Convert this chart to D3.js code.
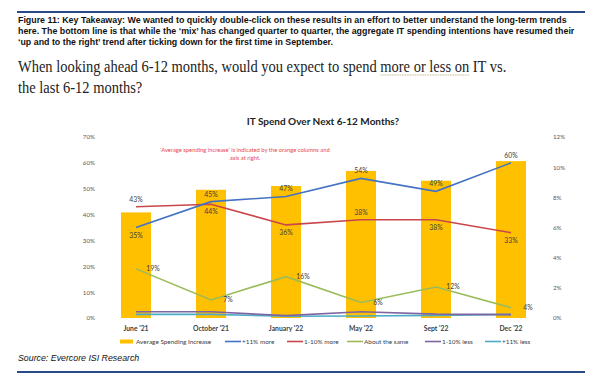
<!DOCTYPE html>
<html>
<head>
<meta charset="utf-8">
<script src="https://cdn.jsdelivr.net/npm/d3@7"></script>
<style>
  body { margin: 0; background: #fff; }
  svg { display: block; }
</style>
</head>
<body>
<svg width="600" height="385"></svg>
<script>
// chart data
const categories = ["June '21", "October '21", "January '22", "May '22", "Sept '22", "Dec '22"];
const avgIncrease = [7.0, 8.5, 8.75, 9.75, 9.1, 10.4];   // right axis, %
const more11 = [35, 45, 47, 54, 49, 60];
const more1to10 = [43, 44, 36, 38, 38, 33];
const aboutSame = [19, 7, 16, 6, 12, 4];
const less1to10 = [2.4, 2.4, 0.9, 2.4, 1.5, 1.3];
const less11 = [1.4, 1.4, 0.7, 0.8, 1.0, 1.4];
const leftTicks = [0, 10, 20, 30, 40, 50, 60, 70];
const rightTicks = [0, 2, 4, 6, 8, 10, 12];

const headerLines = [
    "Figure 11: Key Takeaway: We wanted to quickly double-click on these results in an effort to better understand the long-term trends",
    "here. The bottom line is that while the \u2018mix\u2019 has changed quarter to quarter, the aggregate IT spending intentions have resumed their",
    "\u2018up and to the right\u2019 trend after ticking down for the first time in September."
];

const series = [
    {name: '+11% more', values: more11, color: '#4472c4', labelPos: ['below', 'above', 'above', 'above', 'above', 'above']},
    {name: '1-10% more', values: more1to10, color: '#c9464a', labelPos: ['above', 'below', 'below', 'above', 'below', 'below']},
    {name: 'About the same', values: aboutSame, color: '#9bbb59', labelPos: ['right', 'right', 'right', 'right', 'right', 'right']},
    {name: '1-10% less', values: less1to10, color: '#8064a2', labelPos: null},
    {name: '+11% less', values: less11, color: '#4bacc6', labelPos: null}
];

const svg = d3.select('svg');
const chartFont = 'Lato, "Open Sans", sans-serif';

// blue rules
svg.append('line').attr('x1', 17).attr('x2', 585).attr('y1', 12).attr('y2', 12)
    .attr('stroke', '#2a4a86').attr('stroke-width', 2.2);
svg.append('line').attr('x1', 17).attr('x2', 585).attr('y1', 372).attr('y2', 372)
    .attr('stroke', '#2a4a86').attr('stroke-width', 2.2);

// header text
svg.append('g').selectAll('text').data(headerLines).enter().append('text')
    .attr('x', 18).attr('y', (d, i) => 22.5 + i * 11.3)
    .style('font-family', 'Liberation Sans, Arial, sans-serif')
    .style('font-size', '8.85px').style('font-weight', 'bold').attr('fill', '#111')
    .text(d => d);

// question (garamond-like: squeeze a serif horizontally)
const qg = svg.append('g');
const qStyle = sel => sel.style('font-family', '"Liberation Serif", "DejaVu Serif", serif')
    .style('font-size', '17.5px').attr('fill', '#222');
const q = qg.append('text').attr('x', 0).attr('y', 72).call(qStyle);
q.append('tspan').text('When looking ahead 6-12 months, would you expect to spend ');
q.append('tspan').attr('id', 'uline').text('more or less on');
q.append('tspan').text(' IT vs.');
qg.append('text').attr('x', 0).attr('y', 93).call(qStyle).text('the last 6-12 months?');
const sx = 489 / q.node().getComputedTextLength();
qg.attr('transform', 'translate(18,0) scale(' + sx + ',1)');
const ub = document.getElementById('uline').getBBox();
qg.append('line').attr('x1', ub.x).attr('x2', ub.x + ub.width).attr('y1', 75).attr('y2', 75)
    .attr('stroke', '#b8a070').attr('stroke-width', 1).attr('stroke-dasharray', '1,1');

// chart title
svg.append('text').attr('x', 323).attr('y', 125).attr('text-anchor', 'middle')
    .style('font-family', chartFont).style('font-size', '10px').style('font-weight', 'bold')
    .attr('fill', '#222').text('IT Spend Over Next 6-12 Months?');

// red note
const note = svg.append('text').attr('text-anchor', 'middle')
    .style('font-family', chartFont).style('font-size', '5.8px').attr('fill', '#e8474f');
note.append('tspan').attr('x', 245).attr('y', 152)
    .text('\u2018Average spending increase\u2019 is indicated by the orange columns and');
note.append('tspan').attr('x', 245).attr('y', 160).text('axis at right.');

// scales
const x = d3.scaleBand().domain(categories).range([98.5, 548.5]).paddingInner(0.6).paddingOuter(0.3);
const xc = d => x(d) + x.bandwidth() / 2;
const yL = d3.scaleLinear().domain([0, 70]).range([318, 137]);
const yR = d3.scaleLinear().domain([0, 12]).range([318, 137]);

// axes (labels only)
const axisL = svg.append('g').attr('transform', 'translate(95,0)')
    .call(d3.axisLeft(yL).tickValues(leftTicks).tickSize(0).tickPadding(0).tickFormat(d => d + '%'));
const axisR = svg.append('g').attr('transform', 'translate(553,0)')
    .call(d3.axisRight(yR).tickValues(rightTicks).tickSize(0).tickPadding(0).tickFormat(d => d + '%'));
[axisL, axisR].forEach(a => {
    a.select('.domain').remove();
    a.selectAll('text').style('font-family', chartFont).style('font-size', '6.2px').attr('fill', '#595959');
});

// bars
svg.append('g').selectAll('rect').data(categories).enter().append('rect')
    .attr('x', d => x(d))
    .attr('width', x.bandwidth())
    .attr('y', (d, i) => yR(avgIncrease[i]))
    .attr('height', (d, i) => yR(0) - yR(avgIncrease[i]))
    .attr('fill', '#ffc000');

// category labels
const axisX = svg.append('g').attr('transform', 'translate(0,320)')
    .call(d3.axisBottom(x).tickSize(0).tickPadding(6));
axisX.select('.domain').remove();
axisX.selectAll('text').style('font-family', chartFont).style('font-size', '6.8px')
    .style('font-weight', 'bold').attr('fill', '#404040');

// lines
const line = d3.line().x((d, i) => xc(categories[i])).y(d => yL(d));
svg.append('g').selectAll('path').data(series.slice().reverse()).enter().append('path')
    .attr('d', d => line(d.values))
    .attr('fill', 'none')
    .attr('stroke', d => d.color)
    .attr('stroke-width', 1.6);

// data labels
const labels = [];
series.forEach(s => {
    if (!s.labelPos) return;
    s.values.forEach((v, i) => labels.push({v: v, i: i, pos: s.labelPos[i]}));
});
svg.append('g').selectAll('text').data(labels).enter().append('text')
    .attr('x', d => xc(categories[d.i]) + (d.pos === 'right' ? 17 : 0))
    .attr('y', d => yL(d.v) + (d.pos === 'above' ? -5 : d.pos === 'below' ? 10 : 2.5))
    .attr('text-anchor', 'middle')
    .style('font-family', chartFont).style('font-size', '6.8px')
    .attr('fill', '#404040')
    .text(d => d.v + '%');

// legend
const legendItems = [{name: 'Average Spending Increase', color: '#ffc000', bar: true, x: 120}]
    .concat(series.map((s, k) => ({name: s.name, color: s.color, bar: false, x: [225, 287, 347, 425, 485][k]})));
const lg = svg.append('g').selectAll('g').data(legendItems).enter().append('g')
    .attr('transform', d => 'translate(' + d.x + ',341.5)');
lg.append('rect').attr('x', 0).attr('width', d => d.bar ? 13 : 16)
    .attr('y', d => d.bar ? -2 : -0.8).attr('height', d => d.bar ? 4 : 1.6)
    .attr('fill', d => d.color);
lg.append('text').attr('x', d => d.bar ? 16 : 17).attr('y', 2.2)
    .style('font-family', chartFont).style('font-size', '6.4px').attr('fill', '#404040')
    .text(d => d.name);

// source
svg.append('text').attr('x', 18).attr('y', 361)
    .style('font-family', 'Liberation Sans, Arial, sans-serif')
    .style('font-size', '8.8px').style('font-style', 'italic').attr('fill', '#111')
    .text('Source: Evercore ISI Research');
</script>
</body>
</html>
